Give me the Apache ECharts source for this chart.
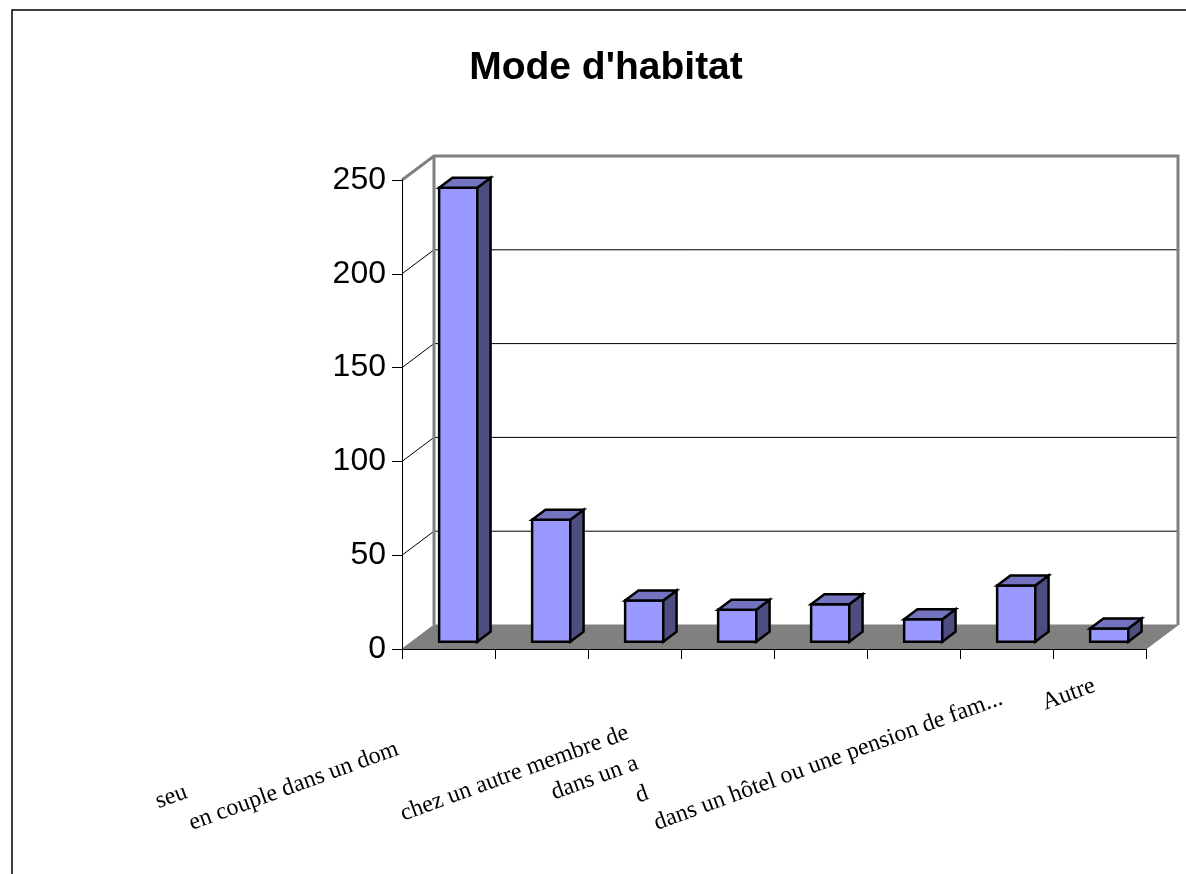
<!DOCTYPE html>
<html>
<head>
<meta charset="utf-8">
<title>Mode d'habitat</title>
<script src="https://cdn.jsdelivr.net/npm/echarts@6/dist/echarts.min.js"></script>
<style>
  html, body { margin: 0; padding: 0; background: #ffffff; }
  #chart { width: 1186px; height: 874px; }
</style>
</head>
<body>
<div id="chart"></div>
<script>
// Category labels (as printed under the axis), counts per category, value-axis ticks
const categories = ['seu', 'en couple dans un dom', '', 'chez un autre membre de', 'dans un a', 'd', 'dans un hôtel ou une pension de fam...', 'Autre'];
const counts = [242, 65, 22, 17, 20, 12, 30, 7];
const yTicks = [0, 50, 100, 150, 200, 250];

// Layout of the pseudo-3D scene (pixels)
const labelShift = [279, 153, 0, 106, 195, 283, 5, 1]; // slide of each label along its slanted baseline
const labelLift = [0, 0, 0, 0, 0, 0, 0, 24];          // extra room under a label, lifting it
const WALL = [32, -24];        // offset of the back wall from the front plane
const BAR_FRONT = [9.7, -7.3]; // offset of a bar's front face
const BAR_DEPTH = [13.3, -10]; // depth of a bar
const BAR_RATIO = 0.41;        // bar width relative to the category band

const chart = echarts.init(document.getElementById('chart'), null, { renderer: 'canvas' });

// Floor, back wall, left wall and their gridlines
function renderFrame(params, api) {
  const cs = params.coordSys;
  const x0 = cs.x, x1 = cs.x + cs.width;
  const yOf = v => api.coord([0, v])[1];
  const yBase = yOf(yTicks[0]);
  const yTop = yOf(yTicks[yTicks.length - 1]);
  const dx = WALL[0], dy = WALL[1];
  const children = [];
  children.push({
    type: 'polygon',
    shape: { points: [[x0, yBase], [x1, yBase], [x1 + dx, yBase + dy], [x0 + dx, yBase + dy]] },
    style: { fill: '#808080', stroke: '#808080', lineWidth: 1 }
  });
  yTicks.slice(1, -1).forEach(v => {
    const y = yOf(v);
    children.push({
      type: 'polyline',
      shape: { points: [[x0, y], [x0 + dx, y + dy], [x1 + dx, y + dy]] },
      style: { stroke: '#000000', lineWidth: 1, fill: null }
    });
  });
  children.push({
    type: 'polyline',
    shape: { points: [[x0, yTop], [x0 + dx, yTop + dy], [x1 + dx, yTop + dy], [x1 + dx, yBase + dy]] },
    style: { stroke: '#808080', lineWidth: 3, fill: null, lineJoin: 'miter' }
  });
  children.push({
    type: 'line',
    shape: { x1: x0 + dx, y1: yTop + dy, x2: x0 + dx, y2: yBase + dy },
    style: { stroke: '#808080', lineWidth: 3 }
  });
  return { type: 'group', children };
}

// One prism per category: front, right side and top faces
function renderBar(params, api) {
  const i = api.value(0);
  const v = api.value(1);
  const base = api.coord([i, 0]);
  const top = api.coord([i, v]);
  const half = api.size([1, 0])[0] * BAR_RATIO / 2;
  const xl = base[0] - half + BAR_FRONT[0];
  const xr = base[0] + half + BAR_FRONT[0];
  const yb = base[1] + BAR_FRONT[1];
  const yt = top[1] + BAR_FRONT[1];
  const ddx = BAR_DEPTH[0], ddy = BAR_DEPTH[1];
  const edge = { stroke: '#000000', lineWidth: 2.5, lineJoin: 'miter' };
  return {
    type: 'group',
    children: [
      { type: 'polygon', shape: { points: [[xl, yb], [xr, yb], [xr, yt], [xl, yt]] },
        style: Object.assign({ fill: '#9999FF' }, edge) },
      { type: 'polygon', shape: { points: [[xr, yb], [xr + ddx, yb + ddy], [xr + ddx, yt + ddy], [xr, yt]] },
        style: Object.assign({ fill: '#4D4D80' }, edge) },
      { type: 'polygon', shape: { points: [[xl, yt], [xr, yt], [xr + ddx, yt + ddy], [xl + ddx, yt + ddy]] },
        style: Object.assign({ fill: '#7373BF' }, edge) }
    ]
  };
}

const rich = {};
labelShift.forEach((p, i) => {
  rich['c' + i] = {
    fontFamily: '"Liberation Serif", "Times New Roman", serif',
    fontSize: 24,
    color: '#000000',
    padding: [0, p, labelLift[i], 0]
  };
});

const option = {
  animation: false,
  backgroundColor: '#ffffff',
  grid: { left: 402, top: 180, width: 744, height: 469, containLabel: false, outerBoundsMode: 'none' },
  graphic: [
    {
      type: 'rect',
      shape: { x: 12, y: 10, width: 1300, height: 1000 },
      style: { fill: null, stroke: '#000000', lineWidth: 1.5 },
      silent: true
    },
    {
      type: 'text',
      x: 606, y: 68,
      style: {
        text: "Mode d'habitat",
        fontFamily: '"Liberation Sans", Arial, sans-serif',
        fontWeight: 'bold',
        fontSize: 39,
        fill: '#000000',
        textAlign: 'center',
        textVerticalAlign: 'middle'
      }
    }
  ],
  xAxis: {
    type: 'category',
    data: categories,
    boundaryGap: true,
    z: 10,
    axisLine: { show: true, lineStyle: { color: '#000000', width: 1 } },
    axisTick: { show: true, length: 10, interval: 0, lineStyle: { color: '#000000', width: 1 } },
    splitLine: { show: false },
    axisLabel: {
      interval: 0,
      rotate: 20,
      margin: 47,
      hideOverlap: false,
      formatter: (value, index) => value ? '{c' + index + '|' + value + '}' : '',
      rich: rich
    }
  },
  yAxis: {
    type: 'value',
    min: 0,
    max: 250,
    interval: 50,
    z: 10,
    axisLine: { show: true, lineStyle: { color: '#000000', width: 1 } },
    axisTick: { show: true, length: 10, lineStyle: { color: '#000000', width: 1 } },
    splitLine: { show: false },
    axisLabel: {
      margin: 16,
      color: '#000000',
      fontFamily: '"Liberation Sans", Arial, sans-serif',
      fontSize: 32
    }
  },
  series: [
    {
      type: 'custom',
      name: 'frame',
      clip: false,
      z: 1,
      silent: true,
      data: [[0, 0]],
      renderItem: renderFrame
    },
    {
      type: 'custom',
      name: "Mode d'habitat",
      clip: false,
      z: 2,
      data: counts.map((v, i) => [i, v]),
      encode: { x: 0, y: 1 },
      renderItem: renderBar
    }
  ]
};

chart.setOption(option);
</script>
</body>
</html>
